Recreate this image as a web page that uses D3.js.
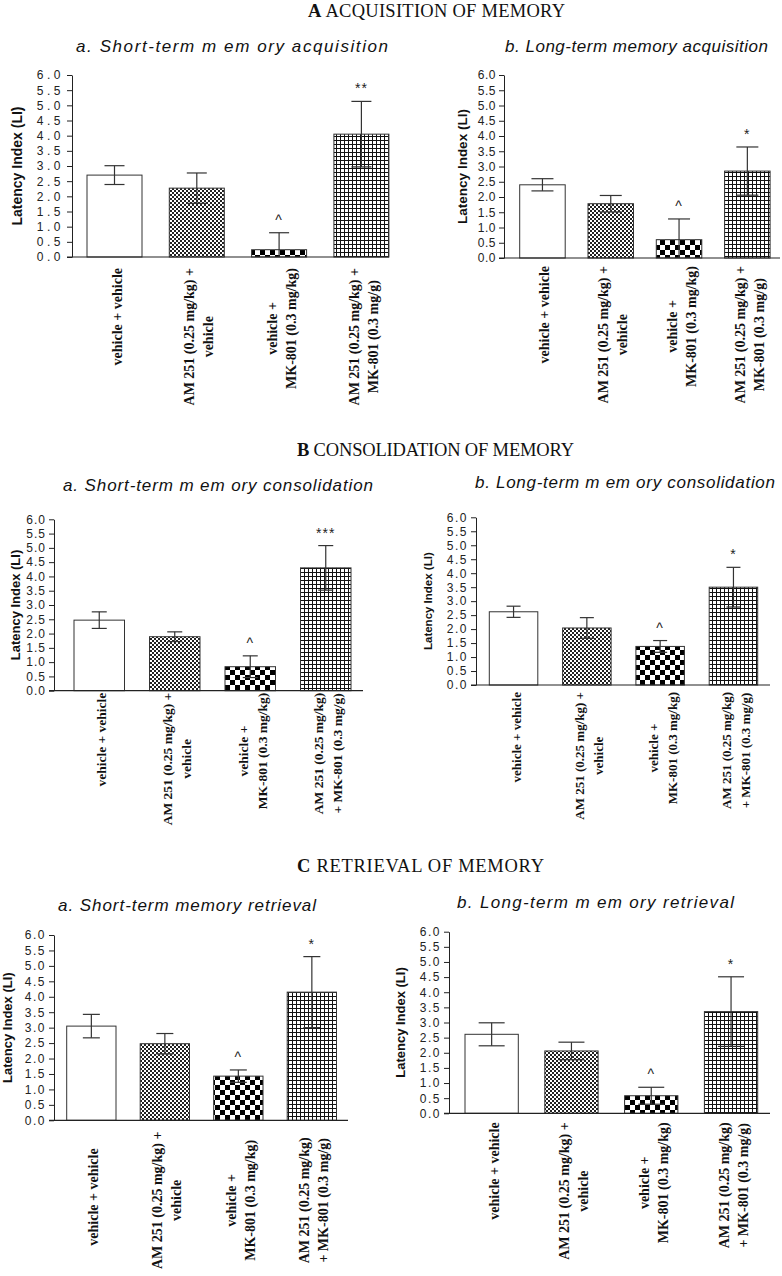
<!DOCTYPE html>
<html>
<head>
<meta charset="utf-8">
<script src="https://cdn.jsdelivr.net/npm/d3@7"></script>
<style>
  body { margin: 0; background: #fff; }
  svg { display: block; }
</style>
</head>
<body>
<svg id="chart" width="782" height="1276"></svg>
<script>
// ---- data ----
const yTicks = [0, 0.5, 1, 1.5, 2, 2.5, 3, 3.5, 4, 4.5, 5, 5.5, 6];

const labelsA = [
  ["vehicle + vehicle"],
  ["AM 251 (0.25 mg/kg) +", "vehicle"],
  ["vehicle +", "MK-801 (0.3 mg/kg)"],
  ["AM 251 (0.25 mg/kg) +", "MK-801 (0.3 mg/g)"]
];
const labelsBC = [
  ["vehicle + vehicle"],
  ["AM 251 (0.25 mg/kg) +", "vehicle"],
  ["vehicle +", "MK-801 (0.3 mg/kg)"],
  ["AM 251 (0.25 mg/kg)", "+ MK-801 (0.3 mg/g)"]
];

const acqShortMean = [2.70, 2.27, 0.24, 4.05];
const acqShortSem  = [0.31, 0.50, 0.56, 1.08];
const acqShortSig  = ["", "", "^", "**"];

const acqLongMean = [2.40, 1.78, 0.60, 2.85];
const acqLongSem  = [0.20, 0.27, 0.68, 0.79];
const acqLongSig  = ["", "", "^", "*"];

const conShortMean = [2.47, 1.89, 0.84, 4.30];
const conShortSem  = [0.29, 0.17, 0.38, 0.78];
const conShortSig  = ["", "", "^", "***"];

const conLongMean = [2.62, 2.04, 1.38, 3.50];
const conLongSem  = [0.20, 0.37, 0.21, 0.71];
const conLongSig  = ["", "", "^", "*"];

const retShortMean = [3.05, 2.48, 1.43, 4.15];
const retShortSem  = [0.38, 0.33, 0.20, 1.15];
const retShortSig  = ["", "", "^", "*"];

const retLongMean = [2.61, 2.06, 0.58, 3.36];
const retLongSem  = [0.38, 0.29, 0.28, 1.15];
const retLongSig  = ["", "", "^", "*"];

const headings = [
  { letter: "A", rest: " ACQUISITION OF MEMORY" },
  { letter: "B", rest: " CONSOLIDATION OF MEMORY" },
  { letter: "C", rest: " RETRIEVAL OF MEMORY" }
];

// ---- layout (positions / styles) ----
const fills = ["#fff", "url(#fine)", "url(#checker)", "url(#grid)"];
const headingPos = [
  { x: 308, y: 17, w: 257 },
  { x: 297, y: 456, w: 277 },
  { x: 297, y: 871.5, w: 247 }
];

const panels = [
  { title: "a. Short-term m em ory acquisition", tx: 76, ty: 52, tw: 312,
    mean: acqShortMean, sem: acqShortSem, sig: acqShortSig, labels: labelsA,
    axisX: 72, yTop: 75, yBot: 257, firstBar: 87, step: 82.3, bw: 55, xEnd: 389,
    ylabX: 22, ylabSize: 14, capW: 20, labPad: 11, labMid: 100, labSize: 14, tickLS: 3.5 },
  { title: "b. Long-term memory acquisition", tx: 505, ty: 52, tw: 263,
    mean: acqLongMean, sem: acqLongSem, sig: acqLongSig, labels: labelsA,
    axisX: 504, yTop: 75, yBot: 258, firstBar: 519.7, step: 68.3, bw: 45.5, xEnd: 780,
    ylabX: 466.7, ylabSize: 13.5, capW: 22, labPad: 8, labMid: 100, labSize: 14, tickLS: 0.5 },
  { title: "a. Short-term m em ory consolidation", tx: 63, ty: 491, tw: 310,
    mean: conShortMean, sem: conShortSem, sig: conShortSig, labels: labelsBC,
    axisX: 54, yTop: 519.3, yBot: 690.7, firstBar: 74, step: 75.5, bw: 50.5, xEnd: 363,
    ylabX: 20, ylabSize: 13, capW: 15, labPad: 2, labMid: 72, labSize: 13.5, tickLS: 1 },
  { title: "b. Long-term m em ory consolidation", tx: 475, ty: 488, tw: 300,
    mean: conLongMean, sem: conLongSem, sig: conLongSig, labels: labelsBC,
    axisX: 476, yTop: 517.3, yBot: 685, firstBar: 489.3, step: 73.3, bw: 48.5, xEnd: 770,
    ylabX: 431.7, ylabSize: 11.5, capW: 14, labPad: 7, labMid: 100, labSize: 13, tickLS: 1.5 },
  { title: "a. Short-term memory retrieval", tx: 58, ty: 911, tw: 258,
    mean: retShortMean, sem: retShortSem, sig: retShortSig, labels: labelsBC,
    axisX: 54, yTop: 935, yBot: 1120.3, firstBar: 66.7, step: 73.5, bw: 49.3, xEnd: 348,
    ylabX: 12, ylabSize: 13, capW: 17, labPad: 28, labMid: 80, labSize: 14, tickLS: 1.5 },
  { title: "b. Long-term m em ory retrieval", tx: 457, ty: 908, tw: 277,
    mean: retLongMean, sem: retLongSem, sig: retLongSig, labels: labelsBC,
    axisX: 449, yTop: 931.7, yBot: 1113.3, firstBar: 465, step: 79.8, bw: 53.3, xEnd: 770,
    ylabX: 405, ylabSize: 13, capW: 26, labPad: 9, labMid: 100, labSize: 14, tickLS: 1.5 }
];

const serif = "'Times New Roman', 'Liberation Serif', serif";
const sans = "Arial, 'Liberation Sans', sans-serif";

const svg = d3.select("#chart");

// hatch patterns
const defs = svg.append("defs");
const fine = defs.append("pattern").attr("id", "fine")
  .attr("patternUnits", "userSpaceOnUse").attr("width", 4).attr("height", 4);
fine.append("rect").attr("width", 4).attr("height", 4).attr("fill", "#fff");
fine.append("rect").attr("width", 2).attr("height", 2).attr("fill", "#222");
fine.append("rect").attr("x", 2).attr("y", 2).attr("width", 2).attr("height", 2).attr("fill", "#222");

const checker = defs.append("pattern").attr("id", "checker")
  .attr("patternUnits", "userSpaceOnUse").attr("width", 10).attr("height", 10);
checker.append("rect").attr("width", 10).attr("height", 10).attr("fill", "#fff");
checker.append("rect").attr("width", 5).attr("height", 5).attr("fill", "#000");
checker.append("rect").attr("x", 5).attr("y", 5).attr("width", 5).attr("height", 5).attr("fill", "#000");

const grid = defs.append("pattern").attr("id", "grid")
  .attr("patternUnits", "userSpaceOnUse").attr("width", 4).attr("height", 4);
grid.append("rect").attr("width", 4).attr("height", 4).attr("fill", "#fff");
grid.append("path").attr("d", "M0.5,0V4M0,0.5H4").attr("stroke", "#111").attr("stroke-width", 1);

// section headings
headings.forEach(function(h, i) {
  const pos = headingPos[i];
  const t = svg.append("text")
    .attr("x", pos.x).attr("y", pos.y)
    .attr("font-family", serif).attr("font-size", 18.5)
    .attr("textLength", pos.w).attr("lengthAdjust", "spacing")
    .attr("fill", "#111");
  t.append("tspan").attr("font-weight", "bold").text(h.letter);
  t.append("tspan").text(h.rest);
});

function drawPanel(p) {
  const rows = p.mean.map((m, i) => ({ i: i, m: m, s: p.sem[i], sig: p.sig[i] }));
  const n = rows.length;
  const pad = 1 - p.bw / p.step;
  const r0 = p.firstBar - (p.step - p.bw) / 2;
  const x = d3.scaleBand()
    .domain(d3.range(n))
    .range([r0, r0 + n * p.step])
    .paddingInner(pad)
    .paddingOuter(pad / 2);
  const y = d3.scaleLinear().domain([0, 6]).range([p.yBot, p.yTop]);
  const cx = d => x(d.i) + x.bandwidth() / 2;

  const g = svg.append("g");

  // subtitle
  g.append("text")
    .attr("x", p.tx).attr("y", p.ty)
    .attr("font-family", sans).attr("font-style", "italic").attr("font-size", 17)
    .attr("textLength", p.tw).attr("lengthAdjust", "spacing")
    .attr("fill", "#111")
    .text(p.title);

  // bars
  g.selectAll("rect.bar")
    .data(rows)
    .join("rect")
    .attr("class", "bar")
    .attr("x", d => x(d.i))
    .attr("y", d => y(d.m))
    .attr("width", x.bandwidth())
    .attr("height", d => y(0) - y(d.m))
    .attr("fill", d => fills[d.i])
    .attr("stroke", "#333")
    .attr("stroke-width", 1);

  // error bars (mean +/- sem)
  const err = g.selectAll("g.err")
    .data(rows)
    .join("g")
    .attr("class", "err")
    .attr("stroke", "#333")
    .attr("stroke-width", 1.2);
  err.append("line")
    .attr("x1", cx).attr("x2", cx)
    .attr("y1", d => y(Math.max(0, d.m - d.s)))
    .attr("y2", d => y(d.m + d.s));
  err.append("line")
    .attr("x1", d => cx(d) - p.capW / 2)
    .attr("x2", d => cx(d) + p.capW / 2)
    .attr("y1", d => y(d.m + d.s))
    .attr("y2", d => y(d.m + d.s));
  err.filter(d => d.m - d.s > 0).append("line")
    .attr("x1", d => cx(d) - p.capW / 2)
    .attr("x2", d => cx(d) + p.capW / 2)
    .attr("y1", d => y(d.m - d.s))
    .attr("y2", d => y(d.m - d.s));

  // significance marks
  g.selectAll("text.sig")
    .data(rows)
    .join("text")
    .attr("class", "sig")
    .attr("x", cx)
    .attr("y", d => y(d.m + d.s) - 8)
    .attr("text-anchor", "middle")
    .attr("font-family", sans).attr("font-size", 14)
    .attr("letter-spacing", 1)
    .attr("fill", "#222")
    .text(d => d.sig);

  // y axis
  const yAxis = g.append("g")
    .attr("transform", "translate(" + p.axisX + ",0)")
    .call(d3.axisLeft(y)
      .tickValues(yTicks)
      .tickFormat(d3.format(".1f"))
      .tickSize(5)
      .tickSizeOuter(0));
  yAxis.selectAll("path, line").attr("stroke", "#222");
  yAxis.selectAll("text")
    .attr("font-family", sans).attr("font-size", 12)
    .attr("letter-spacing", p.tickLS)
    .attr("fill", "#222");

  // x baseline
  g.append("line")
    .attr("x1", p.axisX - 5).attr("x2", p.xEnd)
    .attr("y1", y(0)).attr("y2", y(0))
    .attr("stroke", "#222").attr("stroke-width", 1.2);

  // y axis title
  g.append("text")
    .attr("transform", "translate(" + p.ylabX + "," + (p.yTop + p.yBot) / 2 + ") rotate(-90)")
    .attr("text-anchor", "middle")
    .attr("font-family", sans).attr("font-weight", "bold").attr("font-size", p.ylabSize)
    .attr("fill", "#111")
    .text("Latency Index (LI)");

  // rotated category labels
  p.labels.forEach(function(lines, i) {
    const bx0 = x(i) + x.bandwidth() / 2;
    const texts = lines.map(s => g.append("text")
      .attr("text-anchor", "middle")
      .attr("font-family", serif).attr("font-weight", "bold").attr("font-size", p.labSize)
      .attr("fill", "#111")
      .text(s));
    const maxLen = d3.max(texts, t => t.node().getComputedTextLength());
    const cy = y(0) + Math.min(p.labMid, p.labPad + maxLen / 2);
    texts.forEach(function(t, j) {
      const bx = bx0 + 7 + (j - (lines.length - 1) / 2) * 19;
      t.attr("transform", "translate(" + bx + "," + cy + ") rotate(-90)");
    });
  });
}

panels.forEach(drawPanel);
</script>
</body>
</html>
